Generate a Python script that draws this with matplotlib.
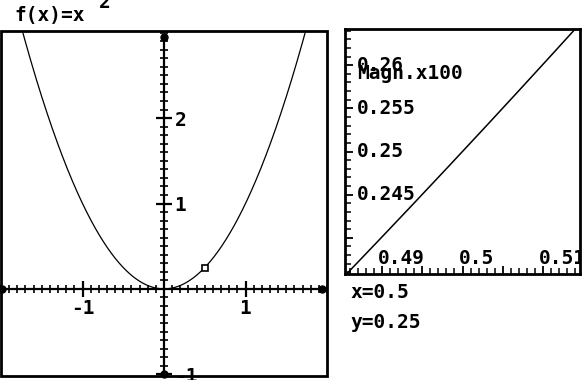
import matplotlib
matplotlib.use("Agg")
import matplotlib.pyplot as plt
import matplotlib.transforms as mtransforms
from matplotlib.patches import Rectangle
from matplotlib.ticker import FixedLocator, MultipleLocator
import numpy as np

plt.rcParams['font.family'] = ['DejaVu Sans Mono']
plt.rcParams['font.weight'] = 'bold'
plt.rcParams['axes.unicode_minus'] = False

# fenêtre principale : f(x) = x^2
titre = "f(x)=x"
exposant = "2"
x_min, x_max = -2.0, 2.0
y_min, y_max = -1.02, 3.02
x_labels = [-1, 1]
y_labels = [-1, 1, 2]

# curseur et loupe
curseur_x = 0.5
curseur_y = 0.25
zoom_x = (0.4854, 0.5146)
zoom_y = (0.2358, 0.2642)
zoom_x_labels = [0.49, 0.5, 0.51]
zoom_y_labels = [0.245, 0.25, 0.255, 0.26]
texte_zoom = "Magn.x100"


def f(x):
    return x ** 2


fs = 14
fig = plt.figure(figsize=(5.82, 3.80), dpi=100)

# --- panneau de gauche ---
ax = fig.add_axes([1/582, 4/380, 326/582, 345/380])
ax.set_xlim(x_min, x_max)
ax.set_ylim(y_min, y_max)

xs = np.linspace(x_min, x_max, 801)
ax.plot(xs, f(xs), color='black', lw=0.9, zorder=3)
ax.plot([curseur_x], [curseur_y], marker='s', ms=4, mfc='white', mec='black', mew=1.2, zorder=4)

ax.spines['top'].set_visible(False)
ax.spines['left'].set_visible(False)
ax.spines['bottom'].set_position(('data', 0))
ax.spines['right'].set_position(('data', 0))
ax.spines['bottom'].set_linewidth(1.6)
ax.spines['right'].set_linewidth(1.6)
ax.spines['bottom'].set_bounds(-1.99, 1.94)
ax.spines['right'].set_bounds(-1.0, 2.95)
ax.yaxis.set_ticks_position('right')

ax.xaxis.set_major_locator(FixedLocator(x_labels))
ax.yaxis.set_major_locator(FixedLocator(y_labels))
ax.xaxis.set_minor_locator(MultipleLocator(0.1))
ax.yaxis.set_minor_locator(MultipleLocator(0.1))
ax.tick_params(which='major', direction='inout', length=11, width=1.6, labelsize=fs, pad=2)
ax.tick_params(which='minor', direction='inout', length=6, width=1.2)

# points au bout des axes
ax.plot([-1.99, 1.94], [0, 0], 'o', color='black', ms=5, clip_on=False, zorder=5)
ax.plot([0, 0], [-1.0, 2.95], 'o', color='black', ms=5, clip_on=False, zorder=5)

ax.add_patch(Rectangle((0, 0), 1, 1, transform=ax.transAxes, fill=False,
                       lw=2, ec='black', clip_on=False, zorder=6))

fig.text(14/582, (380-15)/380, titre, fontsize=fs, va='center', ha='left')
fig.text(99/582, (380-3)/380, exposant, fontsize=fs, va='center', ha='left')

# --- panneau de droite (loupe) ---
ax2 = fig.add_axes([345/582, 106/380, 235/582, 245/380])
ax2.set_xlim(*zoom_x)
ax2.set_ylim(*zoom_y)
zx = np.linspace(zoom_x[0], zoom_x[1], 200)
ax2.plot(zx, f(zx), color='black', lw=1.1)

for s in ax2.spines.values():
    s.set_linewidth(2)
ax2.xaxis.set_major_locator(MultipleLocator(0.005))
ax2.xaxis.set_minor_locator(MultipleLocator(0.001))
ax2.yaxis.set_major_locator(MultipleLocator(0.005))
ax2.yaxis.set_minor_locator(MultipleLocator(0.001))
ax2.tick_params(which='major', direction='in', length=6, width=1.3,
                labelbottom=False, labelleft=False)
ax2.tick_params(which='minor', direction='in', length=4, width=1.1)

tx = mtransforms.blended_transform_factory(ax2.transData, ax2.transAxes)
for v in zoom_x_labels:
    ax2.text(v - 0.0005, 0.062, f"{v:g}", transform=tx, fontsize=fs,
             ha='left', va='center', clip_on=True)
ty = mtransforms.blended_transform_factory(ax2.transAxes, ax2.transData)
for v in zoom_y_labels:
    ax2.text(0.051, v, f"{v:g}", transform=ty, fontsize=fs,
             ha='left', va='center', clip_on=True)
ax2.text(0.051, 0.82, texte_zoom, transform=ax2.transAxes, fontsize=fs,
         ha='left', va='center')

fig.text(350/582, (380-292)/380, f"x={curseur_x:g}", fontsize=fs, va='center', ha='left')
fig.text(350/582, (380-322)/380, f"y={curseur_y:g}", fontsize=fs, va='center', ha='left')

plt.savefig("out.png", dpi=100)
